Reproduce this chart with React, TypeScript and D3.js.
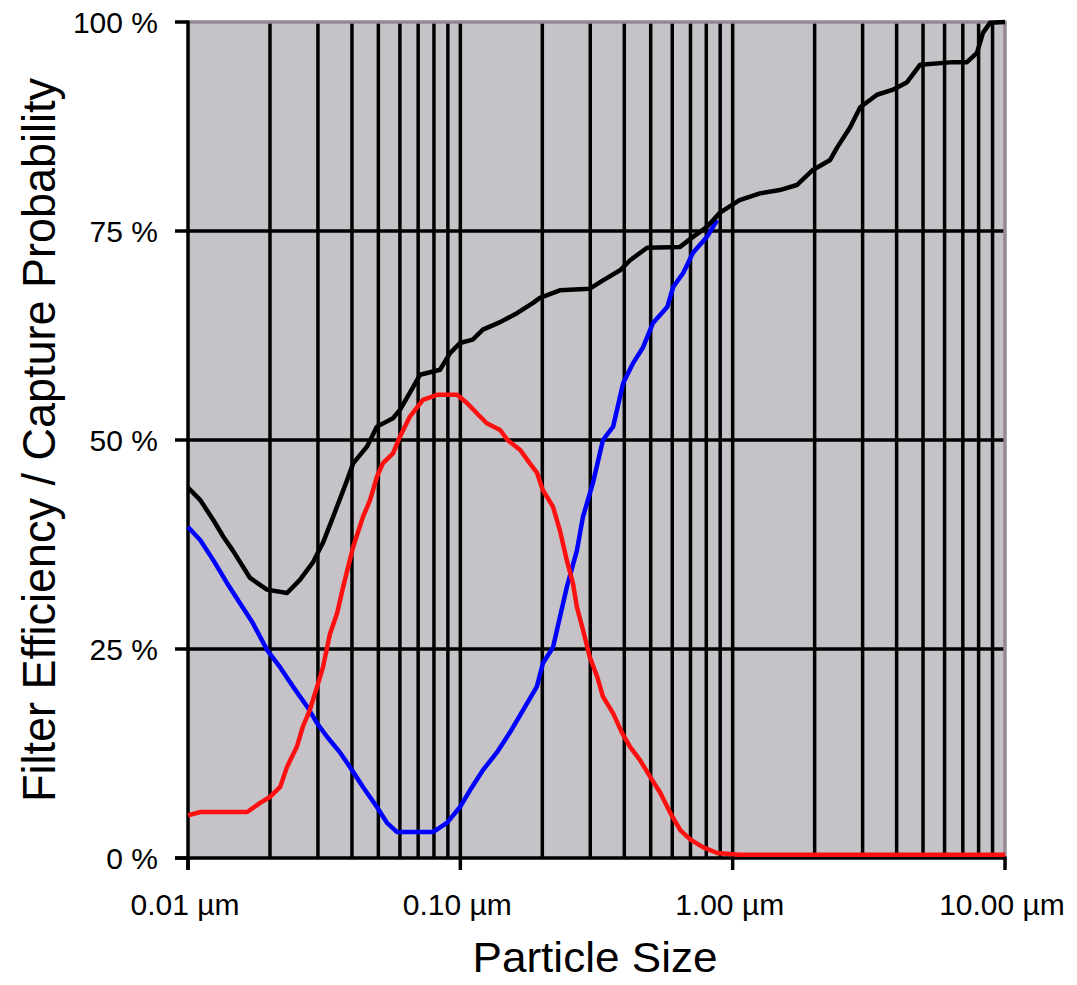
import React, { useEffect, useRef } from 'react';
import * as d3 from 'd3';

// particle size (µm) and percentage for each curve
const totalSize = [0.01, 0.0111, 0.0124, 0.0135, 0.0146, 0.0169, 0.0195, 0.0231, 0.0258, 0.0288, 0.0313, 0.0341, 0.0384, 0.0404, 0.0454, 0.0494, 0.0566, 0.06, 0.067, 0.0711, 0.0842, 0.0917, 0.0997, 0.111, 0.121, 0.14, 0.162, 0.185, 0.196, 0.232, 0.299, 0.334, 0.386, 0.42, 0.485, 0.641, 0.715, 0.805, 0.899, 1.06, 1.26, 1.49, 1.72, 1.97, 2.28, 2.42, 2.7, 2.94, 3.39, 3.88, 4.37, 4.88, 6.45, 7.25, 7.89, 8.3, 8.81, 10];
const totalPct = [44.3, 42.8, 40.4, 38.4, 36.8, 33.5, 32.1, 31.7, 33.3, 35.4, 37.7, 40.8, 45.2, 47.2, 49.2, 51.6, 52.6, 53.6, 56.3, 57.8, 58.4, 60.4, 61.6, 62.0, 63.2, 64.1, 65.2, 66.4, 67.0, 67.9, 68.1, 69.1, 70.3, 71.5, 73.0, 73.1, 74.3, 75.5, 77.2, 78.7, 79.5, 79.9, 80.5, 82.3, 83.5, 85.0, 87.4, 89.8, 91.3, 91.9, 92.8, 94.9, 95.2, 95.2, 96.3, 98.7, 99.9, 100];

const blueSize = [0.01, 0.0111, 0.0124, 0.0139, 0.0155, 0.0173, 0.0195, 0.0218, 0.0243, 0.0274, 0.0298, 0.0324, 0.0362, 0.0393, 0.0439, 0.0494, 0.0538, 0.0586, 0.0793, 0.0893, 0.0997, 0.1085, 0.121, 0.136, 0.152, 0.17, 0.191, 0.201, 0.219, 0.232, 0.246, 0.268, 0.282, 0.307, 0.334, 0.364, 0.396, 0.431, 0.469, 0.51, 0.575, 0.605, 0.659, 0.715, 0.805, 0.877];
const bluePct = [39.6, 38.0, 35.6, 32.9, 30.5, 28.1, 24.9, 22.8, 20.5, 18.1, 16.1, 14.5, 12.6, 10.9, 8.5, 6.1, 4.2, 3.1, 3.1, 4.2, 6.1, 8.1, 10.5, 12.6, 15.0, 17.7, 20.5, 23.3, 25.2, 28.8, 32.4, 36.8, 40.8, 44.9, 50.0, 51.6, 56.8, 59.2, 61.1, 64.0, 65.9, 68.3, 70.0, 72.4, 74.3, 76.3];

const redSize = [0.01, 0.0111, 0.0165, 0.0184, 0.02, 0.0218, 0.0231, 0.0251, 0.0264, 0.028, 0.0298, 0.0313, 0.0332, 0.0353, 0.0371, 0.0404, 0.0439, 0.0466, 0.0494, 0.0519, 0.0566, 0.06, 0.0653, 0.0729, 0.0821, 0.0973, 0.106, 0.115, 0.125, 0.14, 0.149, 0.166, 0.18, 0.191, 0.201, 0.219, 0.232, 0.246, 0.259, 0.268, 0.282, 0.299, 0.318, 0.334, 0.364, 0.392, 0.42, 0.457, 0.498, 0.542, 0.59, 0.643, 0.7, 0.777, 0.877, 1.06, 10];
const redPct = [5.1, 5.5, 5.5, 6.6, 7.3, 8.5, 10.9, 13.3, 15.7, 17.7, 20.5, 22.8, 26.8, 29.3, 32.4, 37.2, 40.8, 42.8, 45.6, 47.2, 48.4, 50.4, 52.8, 54.8, 55.4, 55.4, 54.4, 53.2, 52.0, 51.2, 50.0, 48.8, 47.2, 46.1, 44.0, 42.0, 39.2, 35.6, 32.9, 30.0, 27.3, 24.0, 21.7, 19.3, 17.3, 15.0, 13.3, 11.7, 9.7, 7.8, 5.4, 3.3, 2.2, 1.3, 0.6, 0.4, 0.4];

const pctTicks = [0, 25, 50, 75, 100];
const sizeTicks = [0.01, 0.1, 1, 10];

const series = [
  { size: blueSize, pct: bluePct, color: '#0000ff' },
  { size: totalSize, pct: totalPct, color: '#000000' },
  { size: redSize, pct: redPct, color: '#ff1010' },
];

const W = 1077, H = 985;
const margin = { top: 22, right: 72, bottom: 127, left: 188 };
const FONT = '"Liberation Sans", Arial, sans-serif';

export default function App() {
  const ref = useRef<SVGSVGElement>(null);

  useEffect(() => {
    const svg = d3.select(ref.current);
    svg.selectAll('*').remove();

    const x = d3.scaleLog().domain([0.01, 10]).range([margin.left, W - margin.right]);
    const y = d3.scaleLinear().domain([0, 100]).range([H - margin.bottom, margin.top]);
    const [x0, x1] = x.range();
    const [y0, y1] = y.range();

    svg.append('rect')
      .attr('x', x0).attr('y', y1)
      .attr('width', x1 - x0).attr('height', y0 - y1)
      .attr('fill', '#c5c3c7');

    // vertical grid at every 1..9 of each decade
    const minor: number[] = [];
    for (let d = 0.01; d < 10; d *= 10) {
      for (let k = 1; k <= 9; k++) minor.push(+(d * k).toPrecision(3));
    }
    svg.append('g').selectAll('line')
      .data(minor.filter(v => v > 0.01))
      .join('line')
      .attr('x1', d => x(d)).attr('x2', d => x(d))
      .attr('y1', y1).attr('y2', y0)
      .attr('stroke', '#000').attr('stroke-width', 3.5);

    svg.append('g').selectAll('line')
      .data([25, 50, 75])
      .join('line')
      .attr('x1', x0).attr('x2', x1)
      .attr('y1', d => y(d)).attr('y2', d => y(d))
      .attr('stroke', '#000').attr('stroke-width', 3.5);

    // top and right frame
    svg.append('line').attr('x1', x0).attr('x2', x1 + 1.5).attr('y1', y1).attr('y2', y1)
      .attr('stroke', '#978797').attr('stroke-width', 3.5);
    svg.append('line').attr('x1', x1).attr('x2', x1).attr('y1', y1).attr('y2', y0)
      .attr('stroke', '#978797').attr('stroke-width', 3.5);

    // axes
    svg.append('line').attr('x1', x0).attr('x2', x0).attr('y1', y1 - 1.5).attr('y2', y0 + 12)
      .attr('stroke', '#000').attr('stroke-width', 3.5);
    svg.append('line').attr('x1', x0 - 13).attr('x2', x1 + 1.5).attr('y1', y0).attr('y2', y0)
      .attr('stroke', '#000').attr('stroke-width', 3.5);

    svg.append('g').selectAll('line')
      .data(pctTicks)
      .join('line')
      .attr('x1', x0 - 13).attr('x2', x0)
      .attr('y1', d => y(d)).attr('y2', d => y(d))
      .attr('stroke', '#000').attr('stroke-width', 3.5);
    svg.append('g').selectAll('line')
      .data(sizeTicks)
      .join('line')
      .attr('x1', d => x(d)).attr('x2', d => x(d))
      .attr('y1', y0).attr('y2', y0 + 12)
      .attr('stroke', '#000').attr('stroke-width', 3.5);

    const line = d3.line<[number, number]>()
      .x(d => x(d[0]))
      .y(d => y(d[1]));

    series.forEach(s => {
      const pts = s.size.map((v, i) => [v, s.pct[i]] as [number, number]);
      svg.append('path')
        .attr('d', line(pts))
        .attr('fill', 'none')
        .attr('stroke', s.color)
        .attr('stroke-width', 4.5)
        .attr('stroke-linejoin', 'round');
    });

    svg.append('g').selectAll('text')
      .data(pctTicks)
      .join('text')
      .attr('x', 158).attr('y', d => y(d) + 11)
      .attr('text-anchor', 'end')
      .attr('font-family', FONT).attr('font-size', 30)
      .text(d => `${d} %`);

    svg.append('g').selectAll('text')
      .data(sizeTicks)
      .join('text')
      .attr('x', d => x(d) - 3).attr('y', y0 + 57)
      .attr('text-anchor', 'middle')
      .attr('font-family', FONT).attr('font-size', 30)
      .text(d => `${d.toFixed(2)} µm`);

    svg.append('text')
      .attr('x', 595).attr('y', 972)
      .attr('text-anchor', 'middle')
      .attr('font-family', FONT).attr('font-size', 42)
      .attr('textLength', 245).attr('lengthAdjust', 'spacingAndGlyphs')
      .text('Particle Size');

    svg.append('text')
      .attr('transform', 'translate(55,440) rotate(-90)')
      .attr('text-anchor', 'middle')
      .attr('font-family', FONT).attr('font-size', 46)
      .attr('textLength', 724).attr('lengthAdjust', 'spacingAndGlyphs')
      .text('Filter Efficiency / Capture Probability');
  }, []);

  return (
    <svg ref={ref} width={W} height={H}
      style={{ position: 'absolute', left: 0, top: 0, background: '#fff' }} />
  );
}
